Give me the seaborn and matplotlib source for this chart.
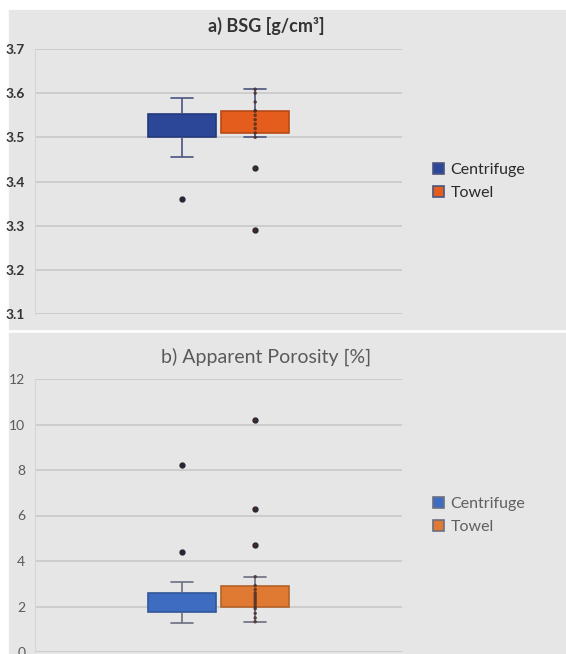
import numpy as np
import pandas as pd
import matplotlib
matplotlib.use("Agg")
import matplotlib.pyplot as plt
from matplotlib.patches import Rectangle
import seaborn as sns

# sample values (quartiles, whiskers, outliers)
bsg_centrifuge = [3.36, 3.456, 3.50, 3.50, 3.52, 3.53, 3.55, 3.555, 3.57, 3.59]
bsg_towel = [3.29, 3.43, 3.50, 3.51, 3.52, 3.53, 3.54, 3.55, 3.56, 3.56, 3.58, 3.60, 3.609]
por_centrifuge = [1.26, 1.45, 1.6, 1.77, 1.95, 2.1, 2.2, 2.35, 2.5, 2.58, 3.09, 4.41, 8.22]
por_towel = [1.33, 1.5, 1.7, 1.9, 1.99, 2.1, 2.2, 2.3, 2.4, 2.5, 2.6, 2.75, 2.92, 3.31, 4.7, 6.29, 10.2]
groups = ["Centrifuge", "Towel"]

bsg_ticks = [3.1, 3.2, 3.3, 3.4, 3.5, 3.6, 3.7]
por_ticks = [0, 2, 4, 6, 8, 10, 12]


def make_df(a, b):
    return pd.DataFrame({
        "value": a + b,
        "method": ["Centrifuge"] * len(a) + ["Towel"] * len(b),
        "cat": ["all"] * (len(a) + len(b)),
    })


sns.set_style("white")
plt.rcParams["font.family"] = ["Lato", "DejaVu Sans"]

bg = "#e6e6e6"
fig = plt.figure(figsize=(5.66, 6.54), dpi=100)
fig.patches.append(Rectangle((9 / 566, 1 - 329 / 654), 1, 319 / 654,
                             transform=fig.transFigure, color=bg, zorder=-1))
fig.patches.append(Rectangle((9 / 566, 0), 1, 1 - 333 / 654,
                             transform=fig.transFigure, color=bg, zorder=-1))

ax1 = fig.add_axes([35 / 566, 1 - 314 / 654, 367 / 566, 265 / 654])
ax2 = fig.add_axes([35 / 566, 1 - 652 / 654, 367 / 566, 273 / 654])

panels = [
    (ax1, make_df(bsg_centrifuge, bsg_towel), {"Centrifuge": "#2c4798", "Towel": "#e45d1c"},
     bsg_ticks, "a) BSG [g/cm³]", 13, "#333333", "bold", "#2a2a2a", "#4a5580"),
    (ax2, make_df(por_centrifuge, por_towel), {"Centrifuge": "#3d6cc0", "Towel": "#e07a33"},
     por_ticks, "b) Apparent Porosity [%]", 14, "#5a5a5a", "normal", "#606060", "#6a6f80"),
]

for ax, df, pal, ticks, title, tsize, tcol, tweight, lcol, wcol in panels:
    ax.set_facecolor(bg)
    sns.boxplot(data=df, x="cat", y="value", hue="method", hue_order=groups,
                palette=pal, saturation=1, width=0.4, gap=0.075, whis=1.5,
                linecolor=wcol, linewidth=1.2, fliersize=3.5,
                flierprops={"marker": "o", "markerfacecolor": "#252533",
                            "markeredgecolor": "#252533"},
                medianprops={"linewidth": 0}, ax=ax)
    for p in ax.patches:
        p.set_edgecolor(tuple(c * 0.8 for c in p.get_facecolor()[:3]))
    # shorter whisker caps, as in the original chart
    for ln in ax.lines:
        xd, yd = np.asarray(ln.get_xdata(), float), np.asarray(ln.get_ydata(), float)
        if len(xd) == 2 and yd[0] == yd[1] and ln.get_linewidth() > 0:
            mid = xd.mean()
            ln.set_xdata(mid + (xd - mid) * 0.65)
    # inner points of the Towel series
    pal4 = dict(pal, a=pal["Centrifuge"], b=pal["Towel"])
    sns.stripplot(data=df[df["method"] == "Towel"], x="cat", y="value", hue="method",
                  hue_order=["a", "Centrifuge", "Towel", "b"], palette={k: "#4a2c26" for k in pal4},
                  dodge=True, jitter=False, size=2.5, alpha=0.8, legend=False, ax=ax)

    ax.set_ylim(ticks[0], ticks[-1])
    ax.set_yticks(ticks)
    ax.set_xlim(-0.5, 0.5)
    ax.set_xticks([])
    ax.set_xlabel("")
    ax.set_ylabel("")
    ax.yaxis.grid(True, color="#c9c9c9", linewidth=1.2)
    ax.set_axisbelow(True)
    for s in ["top", "right", "bottom"]:
        ax.spines[s].set_visible(False)
    ax.spines["left"].set_color("#d6d6d6")
    ax.tick_params(axis="y", length=0, pad=7, labelsize=10, labelcolor=tcol)
    for lab in ax.get_yticklabels():
        lab.set_fontweight(tweight)
    ax.set_title(title, fontsize=tsize, color=tcol, fontweight=tweight, pad=12, x=0.63)

    sns.move_legend(ax, "center left", bbox_to_anchor=(1.045, 0.5), title=None,
                    frameon=False, fontsize=11.5, handlelength=0.7, handleheight=0.7,
                    handletextpad=0.4, labelspacing=0.6)
    for t in ax.get_legend().get_texts():
        t.set_color(lcol)

ax1.set_yticklabels([f"{t:.1f}" for t in bsg_ticks])
for lab in ax1.get_yticklabels():
    lab.set_fontweight("bold")

fig.savefig("out.png", dpi=100)
